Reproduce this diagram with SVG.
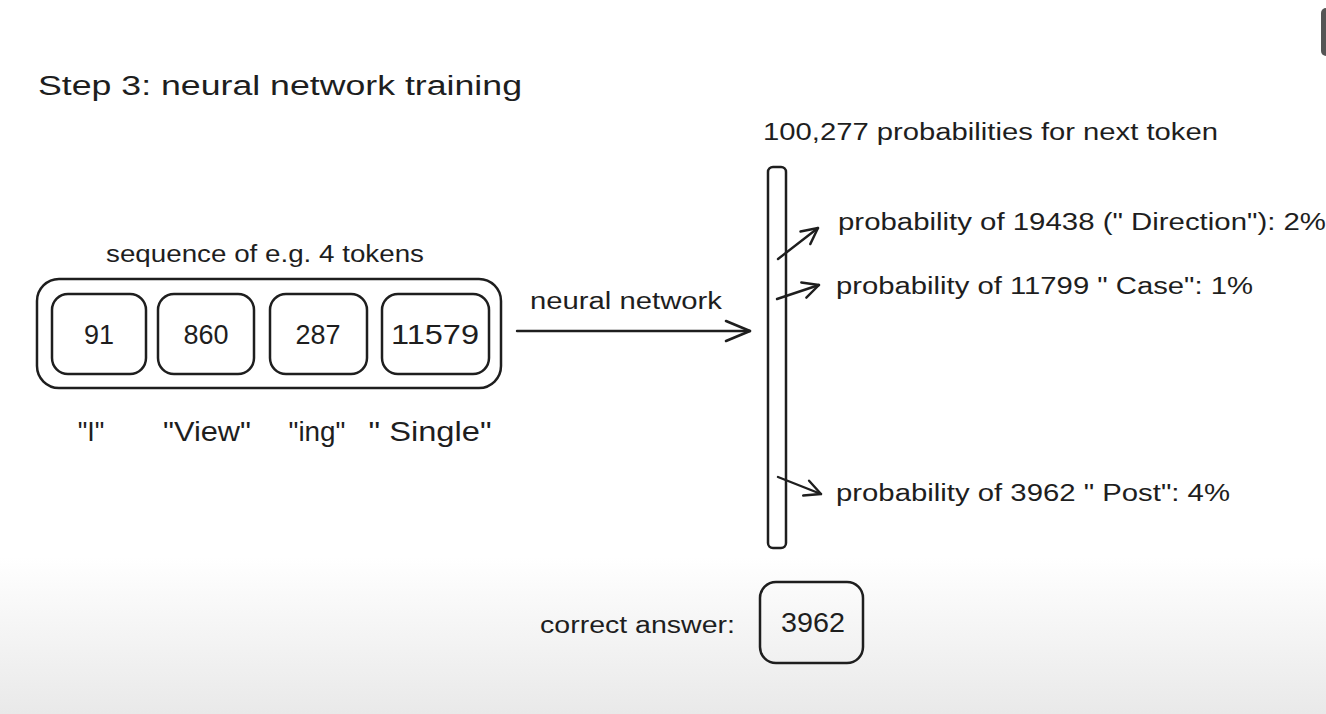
<svg xmlns="http://www.w3.org/2000/svg" width="1326" height="714" viewBox="0 0 1326 714">
<defs>
<linearGradient id="bg" x1="0" y1="0" x2="0" y2="1">
<stop offset="0" stop-color="#ffffff"/>
<stop offset="0.78" stop-color="#ffffff"/>
<stop offset="1" stop-color="#e9e9e9"/>
</linearGradient>
<marker id="arr" viewBox="0 0 20 20" refX="18" refY="10" markerWidth="20" markerHeight="20" markerUnits="userSpaceOnUse" orient="auto">
<path d="M2,2 L18,10 L2,18" fill="none" stroke="#1e1e1e" stroke-width="2.4" stroke-linecap="round" stroke-linejoin="round"/>
</marker>
<marker id="arrBig" viewBox="0 0 30 30" refX="28" refY="15" markerWidth="30" markerHeight="30" markerUnits="userSpaceOnUse" orient="auto">
<path d="M4,5 L28,15 L4,25" fill="none" stroke="#1e1e1e" stroke-width="2.6" stroke-linecap="round" stroke-linejoin="round"/>
</marker>
</defs>
<style>
.box{fill:none;stroke:#1e1e1e;stroke-width:2.5}
.t{font-family:"Liberation Sans",Arial,sans-serif;fill:#1e1e1e}
.num{font-size:27px;text-anchor:middle}
.tok{font-size:27px;text-anchor:middle}
.lbl{font-size:23px}
.c{stroke:#1e1e1e;stroke-width:2.4;fill:none;stroke-linecap:round}
</style>
<rect width="1326" height="714" fill="url(#bg)"/>
<rect x="1321" y="8" width="12" height="48" rx="5" fill="#555555"/>

<text id="title" class="t" x="38" y="95" font-family="'Comic Neue','DejaVu Sans',sans-serif" font-size="27" textLength="484" lengthAdjust="spacingAndGlyphs">Step 3: neural network training</text>

<g id="sequence">
<text class="t lbl" x="265" y="262" text-anchor="middle" textLength="318" lengthAdjust="spacingAndGlyphs">sequence of e.g. 4 tokens</text>
<rect class="box" x="37" y="279" width="464" height="109" rx="22"/>
</g>
<g id="tok91">
<rect class="box" x="52" y="294" width="94" height="80" rx="16"/>
<text class="t num" x="99" y="344">91</text>
<text class="t tok" x="91" y="441">"I"</text>
</g>
<g id="tok860">
<rect class="box" x="158" y="294" width="96" height="80" rx="16"/>
<text class="t num" x="206" y="344">860</text>
<text class="t tok" x="207" y="441" textLength="88" lengthAdjust="spacingAndGlyphs">"View"</text>
</g>
<g id="tok287">
<rect class="box" x="270" y="294" width="97" height="80" rx="16"/>
<text class="t num" x="318" y="344">287</text>
<text class="t tok" x="317" y="441" textLength="57" lengthAdjust="spacingAndGlyphs">"ing"</text>
</g>
<g id="tok11579">
<rect class="box" x="382" y="294" width="107" height="80" rx="16"/>
<text class="t num" x="435" y="344" textLength="88" lengthAdjust="spacingAndGlyphs">11579</text>
<text class="t tok" x="430" y="441" textLength="123" lengthAdjust="spacingAndGlyphs">" Single"</text>
</g>

<g id="probbar">
<text class="t lbl" x="763" y="140" textLength="455" lengthAdjust="spacingAndGlyphs">100,277 probabilities for next token</text>
<rect class="box" x="768" y="167" width="18" height="381" rx="5"/>
</g>
<g id="p1"><text class="t lbl" x="838" y="230" textLength="488" lengthAdjust="spacingAndGlyphs">probability of 19438 (" Direction"): 2%</text></g>
<g id="p2"><text class="t lbl" x="836" y="294" textLength="417" lengthAdjust="spacingAndGlyphs">probability of 11799 " Case": 1%</text></g>
<g id="p3"><text class="t lbl" x="836" y="501" textLength="394" lengthAdjust="spacingAndGlyphs">probability of 3962 " Post": 4%</text></g>

<g id="answer">
<text class="t lbl" x="540" y="633" textLength="195" lengthAdjust="spacingAndGlyphs">correct answer:</text>
<rect class="box" x="760" y="582" width="103" height="81" rx="16"/>
<text class="t num" x="813" y="632" textLength="64" lengthAdjust="spacingAndGlyphs">3962</text>
</g>

<g id="connectors">
<text class="t lbl" x="530" y="309" textLength="192" lengthAdjust="spacingAndGlyphs">neural network</text>
<line class="c" x1="517" y1="331" x2="750" y2="331" marker-end="url(#arrBig)"/>
<line class="c" x1="778" y1="259" x2="818" y2="228" marker-end="url(#arr)"/>
<line class="c" x1="777" y1="299" x2="819" y2="285" marker-end="url(#arr)"/>
<line class="c" x1="778" y1="477" x2="821" y2="494" marker-end="url(#arr)"/>
</g>
</svg>
